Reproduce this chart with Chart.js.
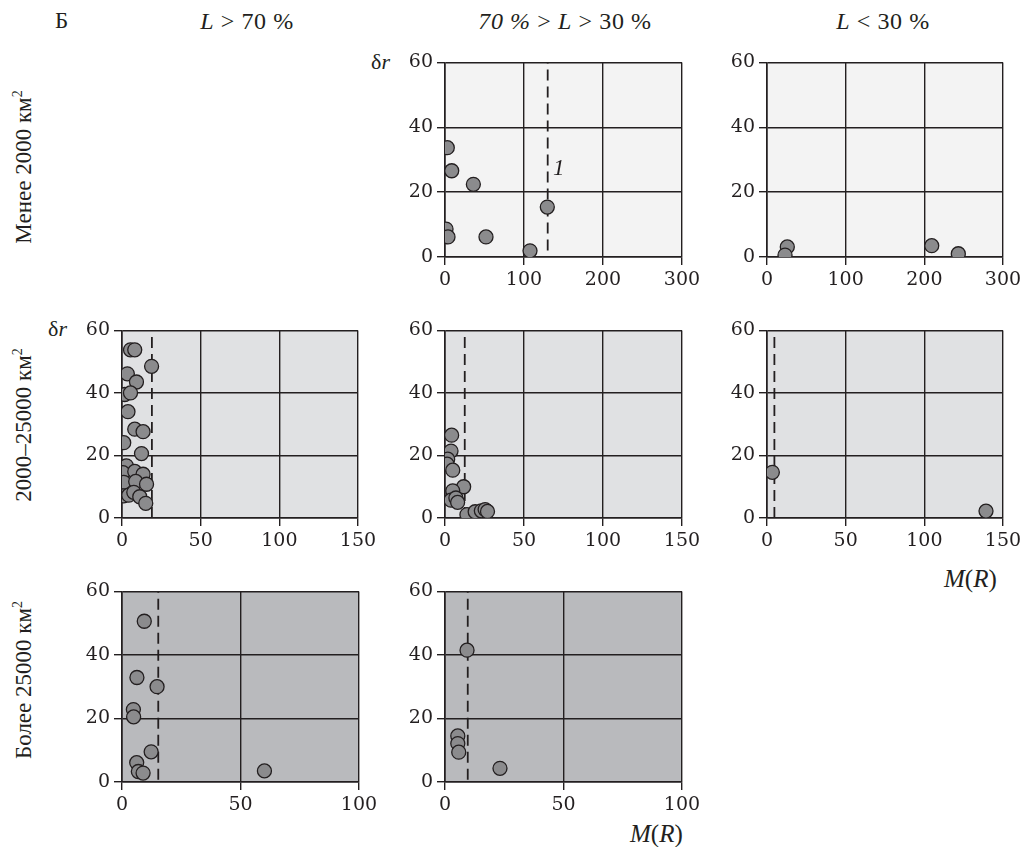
<!DOCTYPE html>
<html>
<head>
<meta charset="utf-8">
<script src="https://cdn.jsdelivr.net/npm/chart.js@4.4.1/dist/chart.umd.min.js"></script>
<style>
  body { margin:0; background:#fff; width:1026px; height:847px; position:relative; overflow:hidden;
         font-family:"Liberation Serif", serif; color:#231f20; }
  .panel { position:absolute; }
  .lbl { position:absolute; font-size:22px; white-space:nowrap; line-height:1; }
  .hdr { font-size:24px; letter-spacing:0.6px; transform:translateX(-50%); }
  .rot { position:absolute; font-size:23px; white-space:nowrap; line-height:1;
         transform:translate(-50%,-50%) rotate(-90deg); }
  sup { font-size:14px; vertical-align:9px; }
</style>
</head>
<body>
<div class="lbl" style="left:55px;top:9px;font-size:23px">Б</div>
<div class="lbl hdr" style="left:247px;top:9px"><i>L</i> &gt; 70 %</div>
<div class="lbl hdr" style="left:565px;top:9px"><i>70 %</i> &gt; <i>L</i> &gt; 30 %</div>
<div class="lbl hdr" style="left:883px;top:9px"><i>L</i> &lt; 30 %</div>

<div class="rot" style="left:23px;top:167px">Менее 2000 км<sup>2</sup></div>
<div class="rot" style="left:23px;top:425px">2000–25000 км<sup>2</sup></div>
<div class="rot" style="left:23px;top:680px">Более 25000 км<sup>2</sup></div>

<div class="lbl" style="left:371px;top:51px">δ<i>r</i></div>
<div class="lbl" style="left:48px;top:318px">δ<i>r</i></div>
<div class="lbl" style="left:944px;top:566px;font-size:25px"><i>M</i>(<i>R</i>)</div>
<div class="lbl" style="left:630px;top:821px;font-size:25px"><i>M</i>(<i>R</i>)</div>

<script>
// tick labels
const yTicks = [0, 20, 40, 60];
const xTicks300 = [0, 100, 200, 300];
const xTicks150 = [0, 50, 100, 150];
const xTicks100 = [0, 50, 100];

// Менее 2000 км²
const smallMidX = [2.9, 8.5, 35.9, 129.5, 1.3, 3.8, 51.9, 107.6];
const smallMidY = [33.7, 26.6, 22.4, 15.4, 8.6, 6.2, 6.2, 1.9];
const smallLowX = [25.8, 22.9, 209.4, 243.2];
const smallLowY = [3.1, 0.6, 3.5, 1.0];

// 2000–25000 км²
const midHighX = [5.4, 8.1, 18.8, 3.4, 9.2, 1.7, 5.4, 3.8, 8.1, 13.4, 1.1, 12.4,
                  2.8, 0.6, 8.1, 13.4, 1.1, 8.7, 15.6, 1.1, 4.3, 7.5, 11.3, 15.1];
const midHighY = [53.8, 53.8, 48.5, 46.1, 43.5, 39.5, 40.0, 34.0, 28.4, 27.6, 24.1, 20.6,
                  16.7, 14.5, 14.9, 14.0, 11.4, 11.7, 10.8, 7.1, 7.3, 8.2, 6.8, 4.7];
const midMidX = [4.2, 3.8, 1.7, 1.3, 4.9, 11.8, 4.9, 3.8, 6.9, 8.0, 13.9, 19.1, 23.0, 25.4, 26.9];
const midMidY = [26.5, 21.4, 18.8, 17.2, 15.3, 10.0, 8.7, 5.7, 6.4, 5.0, 1.1, 2.0, 2.3, 2.7, 2.1];
const midLowX = [3.4, 139.2];
const midLowY = [14.6, 2.2];

// Более 25000 км²
const bigHighX = [9.4, 6.3, 14.8, 4.8, 4.9, 12.3, 6.2, 6.9, 8.9, 60.1];
const bigHighY = [50.6, 32.9, 30.0, 22.8, 20.5, 9.5, 6.1, 3.3, 2.8, 3.5];
const bigMidX = [9.3, 5.4, 5.4, 5.8, 23.2];
const bigMidY = [41.5, 14.5, 12.1, 9.4, 4.3];

// dashed threshold lines: x, y from, y to
const thrSmallMid = [130, 2, 60];
const thrMidHigh = [19, 0, 60];
const thrMidMid = [12.5, 0, 60];
const thrMidLow = [4.7, 0, 60];
const thrBigHigh = [15.3, 0.7, 60];
const thrBigMid = [9.6, 0.7, 60];

const INK = '#231f20';
const PAD_L = 60, PAD_T = 14, PAD_R = 26, PAD_B = 40;

const panelFill = {
  id: 'panelFill',
  beforeDraw(chart, args, opts) {
    const a = chart.chartArea, ctx = chart.ctx;
    ctx.save();
    ctx.fillStyle = opts.color;
    ctx.fillRect(a.left, a.top, a.right - a.left, a.bottom - a.top);
    ctx.restore();
  }
};

const noteLabel = {
  id: 'noteLabel',
  afterDatasetsDraw(chart, args, opts) {
    if (!opts.text) return;
    const ctx = chart.ctx;
    ctx.save();
    ctx.fillStyle = INK;
    ctx.font = 'italic 23px "Liberation Serif"';
    ctx.textAlign = 'center';
    ctx.textBaseline = 'middle';
    ctx.fillText(opts.text, chart.scales.x.getPixelForValue(opts.x), chart.scales.y.getPixelForValue(opts.y));
    ctx.restore();
  }
};

function pts(xs, ys) { return xs.map((x, i) => ({ x: x, y: ys[i] })); }

function makePanel(p) {
  const wrap = document.createElement('div');
  wrap.className = 'panel';
  wrap.style.left = (p.left - PAD_L) + 'px';
  wrap.style.top = (p.top - PAD_T) + 'px';
  const c = document.createElement('canvas');
  c.width = p.w + PAD_L + PAD_R;
  c.height = p.h + PAD_T + PAD_B;
  wrap.appendChild(c);
  document.body.appendChild(wrap);

  const datasets = [{
    data: pts(p.xs, p.ys),
    pointRadius: 7,
    pointBackgroundColor: '#8b8b8d',
    pointBorderColor: INK,
    pointBorderWidth: 1.3,
    order: 0
  }];
  if (p.thr) {
    datasets.push({
      data: [{ x: p.thr[0], y: p.thr[1] }, { x: p.thr[0], y: p.thr[2] }],
      showLine: true,
      pointRadius: 0,
      borderColor: INK,
      borderWidth: 1.8,
      borderDash: [11, 6],
      order: 1
    });
  }
  const ticksFont = { family: 'DejaVu Serif', size: 19 };

  new Chart(c, {
    type: 'scatter',
    data: { datasets },
    options: {
      responsive: false,
      animation: false,
      layout: { padding: { left: 0, top: PAD_T, right: PAD_R, bottom: 0 } },
      plugins: {
        legend: { display: false },
        tooltip: { enabled: false },
        panelFill: { color: p.bg },
        noteLabel: p.note || {}
      },
      scales: {
        x: {
          type: 'linear', min: 0, max: p.xTicks[p.xTicks.length - 1],
          afterBuildTicks: s => { s.ticks = p.xTicks.map(v => ({ value: v })); },
          afterFit: s => { s.height = PAD_B; },
          grid: { color: INK, lineWidth: 1.4, tickLength: 8 },
          border: { color: INK, width: 1.6 },
          ticks: { color: INK, font: ticksFont, padding: 4, maxRotation: 0, autoSkip: false }
        },
        y: {
          type: 'linear', min: 0, max: 60,
          afterBuildTicks: s => { s.ticks = yTicks.map(v => ({ value: v })); },
          afterFit: s => { s.width = PAD_L; },
          grid: { color: INK, lineWidth: 1.4, tickLength: 8 },
          border: { color: INK, width: 1.6 },
          ticks: { color: INK, font: ticksFont, padding: 4 }
        }
      }
    },
    plugins: [panelFill, noteLabel]
  });
}

const ROW1 = '#f3f3f3', ROW2 = '#e0e1e3', ROW3 = '#b9babd';
makePanel({ left: 445, top: 61, w: 237, h: 196, bg: ROW1, xTicks: xTicks300, xs: smallMidX, ys: smallMidY,
            thr: thrSmallMid, note: { text: '1', x: 144, y: 27.2 } });
makePanel({ left: 767, top: 61, w: 236, h: 196, bg: ROW1, xTicks: xTicks300, xs: smallLowX, ys: smallLowY });
makePanel({ left: 122, top: 329, w: 236, h: 189, bg: ROW2, xTicks: xTicks150, xs: midHighX, ys: midHighY, thr: thrMidHigh });
makePanel({ left: 445, top: 329, w: 237, h: 189, bg: ROW2, xTicks: xTicks150, xs: midMidX, ys: midMidY, thr: thrMidMid });
makePanel({ left: 767, top: 329, w: 236, h: 189, bg: ROW2, xTicks: xTicks150, xs: midLowX, ys: midLowY, thr: thrMidLow });
makePanel({ left: 122, top: 590, w: 237, h: 192, bg: ROW3, xTicks: xTicks100, xs: bigHighX, ys: bigHighY, thr: thrBigHigh });
makePanel({ left: 445, top: 590, w: 237, h: 192, bg: ROW3, xTicks: xTicks100, xs: bigMidX, ys: bigMidY, thr: thrBigMid });
</script>
</body>
</html>
